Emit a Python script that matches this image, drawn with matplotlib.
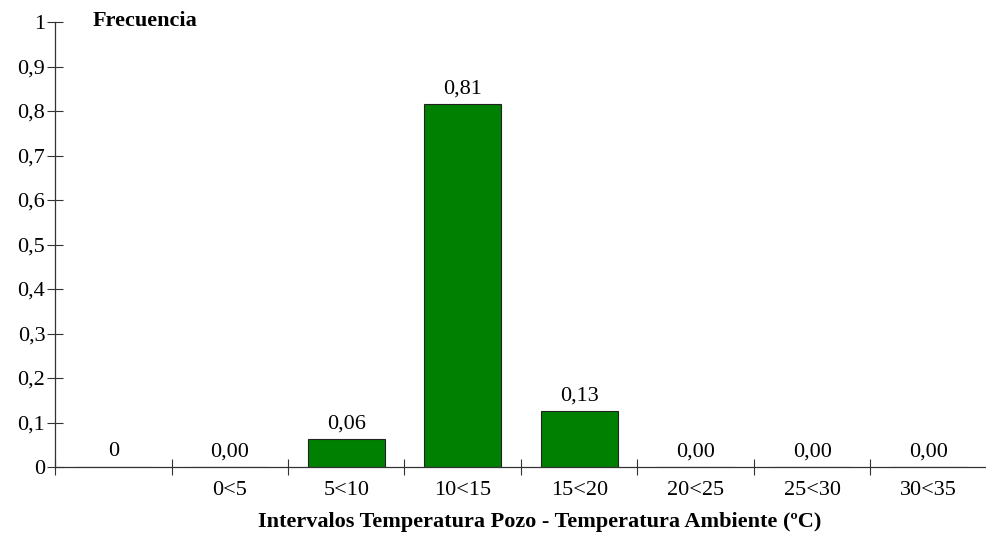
import matplotlib
matplotlib.use("Agg")
import matplotlib.pyplot as plt
import numpy as np

categories = ["", "0<5", "5<10", "10<15", "15<20", "20<25", "25<30", "30<35"]
values = [0.0, 0.0, 0.062, 0.815, 0.125, 0.0, 0.0, 0.0]
value_labels = ["0", "0,00", "0,06", "0,81", "0,13", "0,00", "0,00", "0,00"]
yticks = [0, 0.1, 0.2, 0.3, 0.4, 0.5, 0.6, 0.7, 0.8, 0.9, 1.0]
ytick_labels = ["0", "0,1", "0,2", "0,3", "0,4", "0,5", "0,6", "0,7", "0,8", "0,9", "1"]

plt.rcParams['font.family'] = ['Liberation Serif', 'DejaVu Serif']
FS = 16

fig = plt.figure(figsize=(9.87, 5.43), dpi=100)
ax = fig.add_axes([55/987, 1-467/543, 1-55/987, (467-22)/543])

x = np.arange(len(categories))
ax.bar(x, values, width=0.665, color="#008000", edgecolor="#222222", linewidth=0.8, zorder=2)
for xi, v, lab in zip(x, values, value_labels):
    ax.text(xi, v + 0.013, lab, ha="center", va="bottom", fontsize=FS)

ax.set_xlim(-0.5, 7.4)
ax.set_ylim(0, 1)
ax.set_yticks(yticks)
ax.set_yticklabels(ytick_labels, fontsize=FS)
ax.set_xticks(x)
ax.set_xticklabels(categories, fontsize=FS)
ax.set_xticks(np.arange(len(categories) + 1) - 0.5, minor=True)
ax.tick_params(axis="x", which="major", length=0, pad=10)
ax.tick_params(axis="x", which="minor", direction="inout", length=11, width=0.8, color="#333333")
ax.tick_params(axis="y", direction="inout", length=12, width=0.8, pad=1, color="#333333")

for s in ["top", "right"]:
    ax.spines[s].set_visible(False)
for s in ["left", "bottom"]:
    ax.spines[s].set_linewidth(0.9)
    ax.spines[s].set_color("#333333")

fig.text(93/987, 1-21/543, "Frecuencia", fontsize=FS, fontweight="bold", ha="left", va="center")
fig.text(540/987, 1-522/543, "Intervalos Temperatura Pozo - Temperatura Ambiente (ºC)",
         fontsize=FS, fontweight="bold", ha="center", va="center")

fig.savefig("out.png", dpi=100)
